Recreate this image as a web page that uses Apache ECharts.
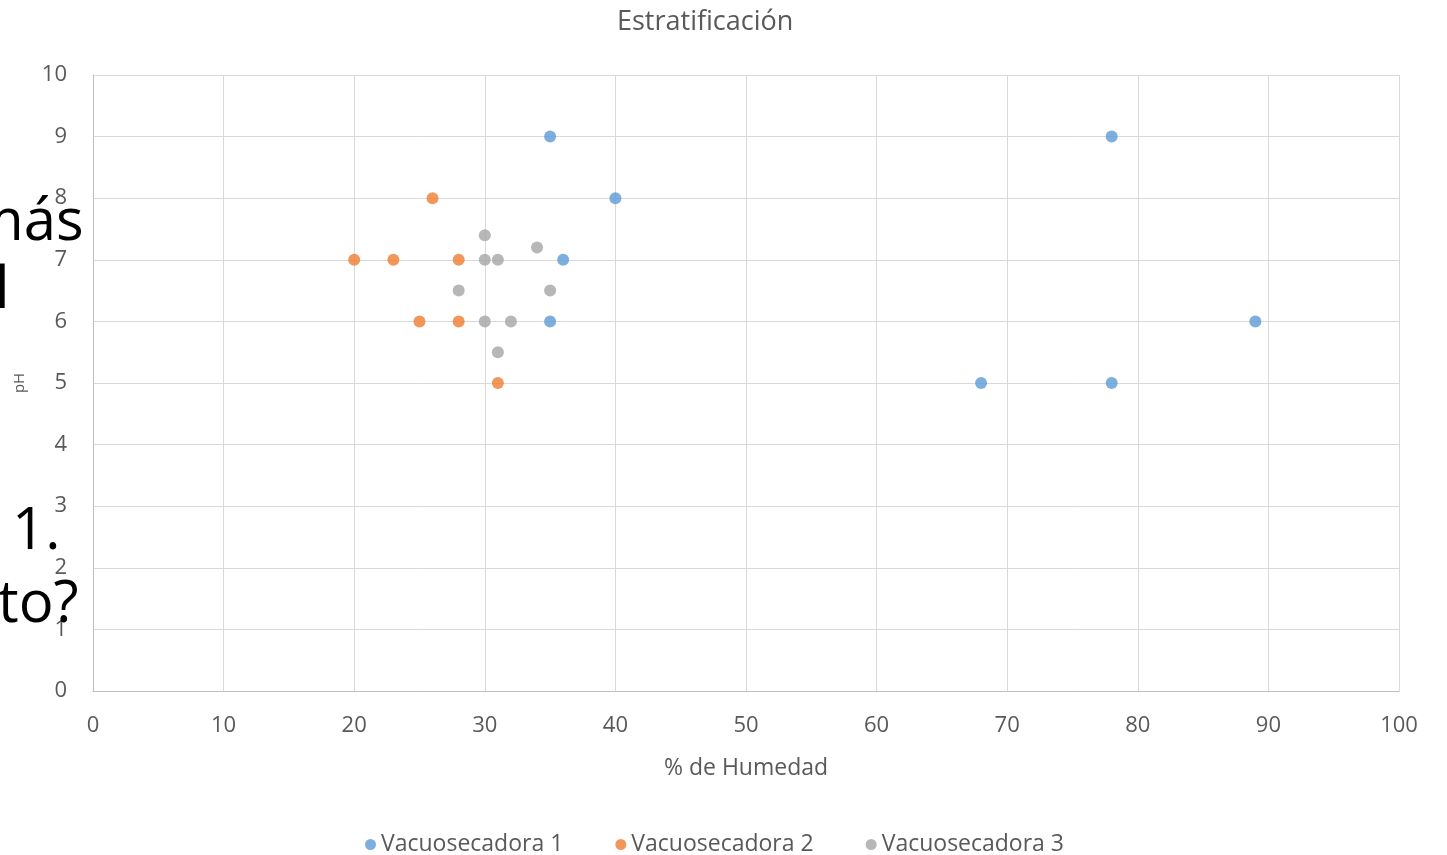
<!DOCTYPE html>
<html>
<head>
<meta charset="utf-8">
<script src="https://cdn.jsdelivr.net/npm/echarts@6/dist/echarts.min.js"></script>
<style>html,body{margin:0;padding:0;background:#fff}#c{width:1447px;height:855px}</style>
</head>
<body>
<div id="c"></div>
<script>
const seriesNames = ['Vacuosecadora 1', 'Vacuosecadora 2', 'Vacuosecadora 3'];
const vac1 = [[35,9],[78,9],[40,8],[36,7],[35,6],[89,6],[68,5],[78,5]];
const vac2 = [[26,8],[20,7],[23,7],[28,7],[25,6],[28,6],[31,5]];
const vac3 = [[30,7.4],[34,7.2],[30,7],[31,7],[28,6.5],[35,6.5],[30,6],[32,6],[31,5.5]];
const colors = ['#5b9bd5', '#ed7d31', '#a5a5a5'];
const overlayTexts = ['más', 'l', '1.', 'to?'];

const chart = echarts.init(document.getElementById('c'));
const font = 'Open Sans, Liberation Sans, sans-serif';
const mk = (name, data, i) => ({
  name, type: 'scatter', data, symbol: 'circle', symbolSize: 12,
  itemStyle: { color: colors[i] }
});
chart.setOption({
  animation: false,
  title: { text: 'Estratificación', left: 612, top: 4,
    textStyle: { fontFamily: font, fontSize: 27, fontWeight: 'normal', color: '#595959' } },
  legend: { top: 828, left: 360, icon: 'circle', itemWidth: 11, itemHeight: 11, itemGap: 52,
    textStyle: { fontFamily: font, fontSize: 23, color: '#595959' } },
  grid: { left: 93, right: 48, top: 75, bottom: 164 },
  xAxis: { type: 'value', min: 0, max: 100, interval: 10,
    name: '% de Humedad', nameLocation: 'middle', nameGap: 66,
    nameTextStyle: { fontFamily: font, fontSize: 23, color: '#595959' },
    axisLine: { lineStyle: { color: '#bfbfbf' } }, axisTick: { show: false },
    axisLabel: { fontFamily: font, fontSize: 22, color: '#595959', margin: 24 },
    splitLine: { lineStyle: { color: '#d9d9d9' } } },
  yAxis: { type: 'value', min: 0, max: 10, interval: 1,
    name: 'pH', nameLocation: 'middle', nameGap: 66, nameRotate: 90,
    nameTextStyle: { fontFamily: font, fontSize: 15, color: '#595959' },
    axisLine: { show: true, lineStyle: { color: '#bfbfbf' } }, axisTick: { show: false },
    axisLabel: { fontFamily: font, fontSize: 22, color: '#595959', margin: 26 },
    splitLine: { lineStyle: { color: '#d9d9d9' } } },
  graphic: [
    { type: 'text', left: -30, top: 194, z: 100, style: { text: overlayTexts[0], font: '58px ' + font, fill: '#000' } },
    { type: 'text', left: -5, top: 262, z: 100, style: { text: overlayTexts[1], font: '58px ' + font, fill: '#000' } },
    { type: 'text', left: 12, top: 503, z: 100, style: { text: overlayTexts[2], font: '58px ' + font, fill: '#000' } },
    { type: 'text', left: -2, top: 576, z: 100, style: { text: overlayTexts[3], font: '58px ' + font, fill: '#000' } }
  ],
  series: [mk(seriesNames[0], vac1, 0), mk(seriesNames[1], vac2, 1), mk(seriesNames[2], vac3, 2)]
});
</script>
</body>
</html>
